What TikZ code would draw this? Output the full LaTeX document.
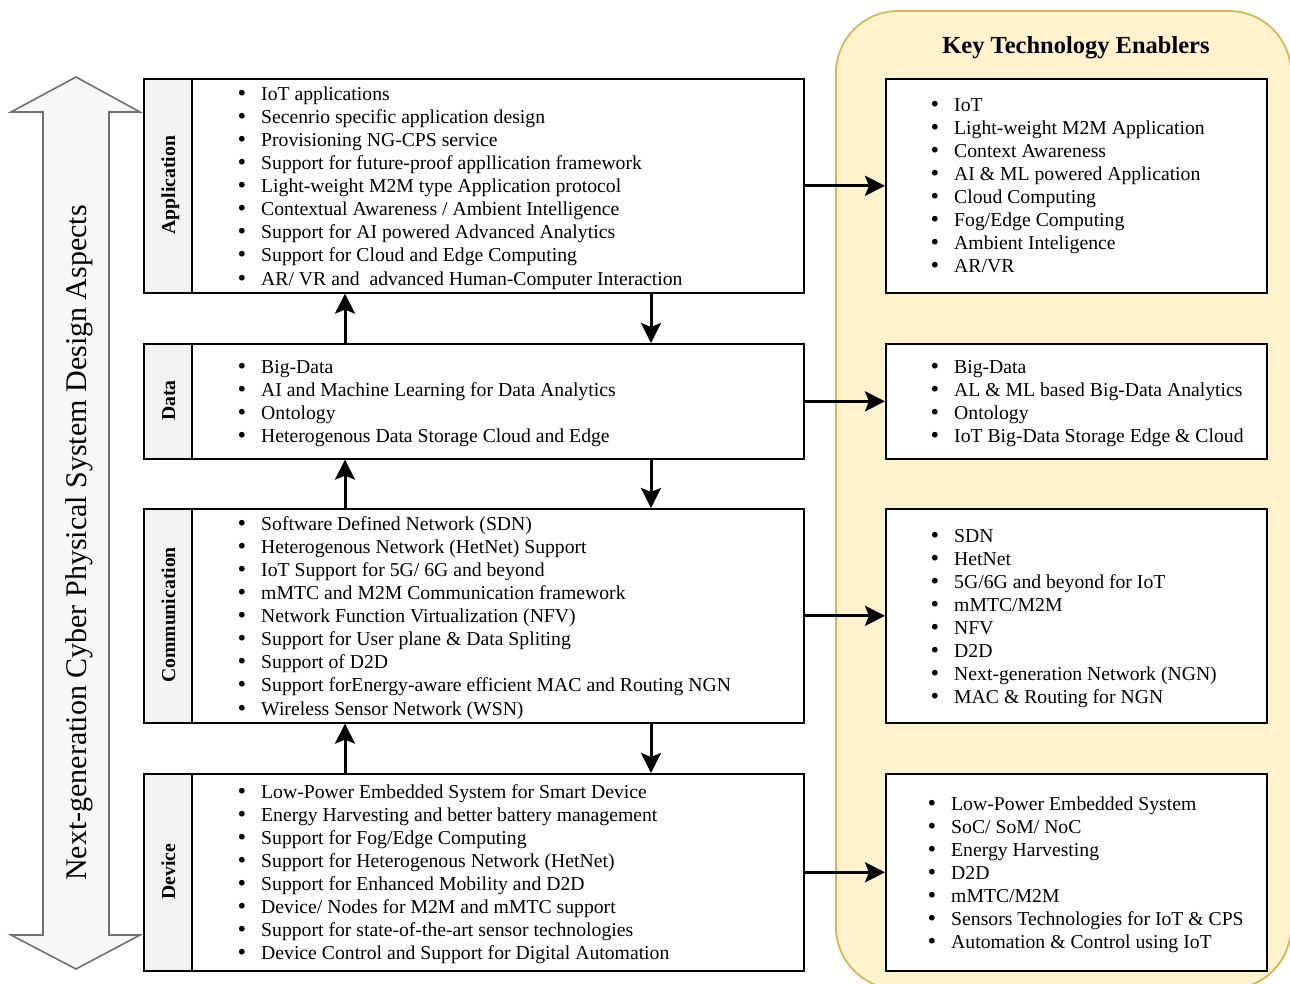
\documentclass[tikz,border=0pt]{standalone}
\usepackage{fontspec}
\setmainfont{Liberation Serif}
\newfontfamily\dotfont{DejaVu Sans}
\usetikzlibrary{arrows.meta,calc}

\definecolor{panelfill}{HTML}{FFF2CC}
\definecolor{paneldraw}{HTML}{D6B656}
\definecolor{labelfill}{HTML}{F2F2F2}
\definecolor{bigarrow}{HTML}{707070}

\newcommand\itemsize{\fontsize{19.7}{23}\selectfont}
\newcommand\itemdot{\makebox[24pt][l]{\hspace{-1pt}{\dotfont\symbol{"2022}}}}

% one bullet line per node, baselines 23.13 apart
\newcommand\bulletlist[4]{%
  \foreach \txt [count=\i] in {#4}{%
    \node[listitem] (#1-\i) at (#2,{#3+(\i-1)*23.13}) {\itemdot\txt};}}

\tikzset{
  listitem/.style={anchor=base west, inner sep=0pt, font=\itemsize},
  contentbox/.style={draw, line width=1.6pt, fill=white, anchor=north west, inner sep=0pt},
  labelbox/.style={draw, line width=1.6pt, fill=labelfill, anchor=north west, inner sep=0pt, minimum width=48pt},
  layername/.style={rotate=90, anchor=base, inner sep=0pt, font=\itemsize\bfseries},
  enablerbox/.style={draw, line width=1.6pt, fill=white, anchor=north west, inner sep=0pt, minimum width=381pt},
  flow/.style={line width=3pt, -{Stealth[length=20pt,width=20pt,inset=4pt]}},
}

\begin{document}
\begin{tikzpicture}[x=1pt, y=-1pt]
\useasboundingbox (0,0) rectangle (1290,983);

% enablers panel
\draw[fill=panelfill, draw=paneldraw, line width=1.8pt, rounded corners=62pt]
  (836,11) rectangle (1291,989);
\node[anchor=base, inner sep=0pt, font=\fontsize{24.5}{28}\selectfont\bfseries] (kte) at (1076,53) {Key Technology Enablers};

% double-headed design-aspects arrow
\draw[fill=white!97!black, draw=bigarrow, line width=1.6pt, line join=miter]
  (76,77) -- (140,112) -- (109,112) -- (109,935) -- (140,935) -- (76,969)
  -- (11,935) -- (43,935) -- (43,112) -- (11,112) -- cycle;
\node[rotate=90, anchor=base, inner sep=0pt, font=\fontsize{30}{34}\selectfont] (aspects) at (86,543)
  {Next-generation Cyber Physical System Design Aspects};

% layer boxes
\node[labelbox, minimum height=214pt] (appL) at (143,78) {};
\node[contentbox, minimum width=612pt, minimum height=214pt] (appC) at (191,78) {};
\node[labelbox, minimum height=115pt] (dataL) at (143,343) {};
\node[contentbox, minimum width=612pt, minimum height=115pt] (dataC) at (191,343) {};
\node[labelbox, minimum height=214pt] (comL) at (143,508) {};
\node[contentbox, minimum width=612pt, minimum height=214pt] (comC) at (191,508) {};
\node[labelbox, minimum height=197pt] (devL) at (143,773) {};
\node[contentbox, minimum width=612pt, minimum height=197pt] (devC) at (191,773) {};

\node[layername] (appT) at (175,185) {Application};
\node[layername] (dataT) at (175,400.5) {Data};
\node[layername] (comT) at (175,615) {Communication};
\node[layername] (devT) at (175,871.5) {Device};

\bulletlist{app}{237}{100}{IoT applications, Secenrio specific application design, Provisioning NG-CPS service,
  Support for future-proof appllication framework, Light-weight M2M type Application protocol,
  Contextual Awareness / Ambient Intelligence, Support for AI powered Advanced Analytics,
  Support for Cloud and Edge Computing, AR/ VR and \ advanced Human-Computer Interaction}
\bulletlist{data}{237}{373}{Big-Data, AI and Machine Learning for Data Analytics, Ontology,
  Heterogenous Data Storage Cloud and Edge}
\bulletlist{com}{237}{530}{Software Defined Network (SDN), Heterogenous Network (HetNet) Support,
  IoT Support for 5G/ 6G and beyond, mMTC and M2M Communication framework,
  Network Function Virtualization (NFV), Support for User plane \& Data Spliting, Support of D2D,
  Support forEnergy-aware efficient MAC and Routing NGN, Wireless Sensor Network (WSN)}
\bulletlist{dev}{237}{798}{Low-Power Embedded System for Smart Device,
  Energy Harvesting and better battery management, Support for Fog/Edge Computing,
  Support for Heterogenous Network (HetNet), Support for Enhanced Mobility and D2D,
  Device/ Nodes for M2M and mMTC support, Support for state-of-the-art sensor technologies,
  Device Control and Support for Digital Automation}

% enabler boxes
\node[enablerbox, minimum height=214pt] (appR) at (885,78) {};
\node[enablerbox, minimum height=115pt] (dataR) at (885,343) {};
\node[enablerbox, minimum height=214pt] (comR) at (885,508) {};
\node[enablerbox, minimum height=197pt] (devR) at (885,773) {};

\bulletlist{kapp}{930}{111}{IoT, Light-weight M2M Application, Context Awareness, AI \& ML powered Application,
  Cloud Computing, Fog/Edge Computing, Ambient Inteligence, AR/VR}
\bulletlist{kdata}{930}{373}{Big-Data, AL \& ML based Big-Data Analytics, Ontology, IoT Big-Data Storage Edge \& Cloud}
\bulletlist{kcom}{930}{542}{SDN, HetNet, 5G/6G and beyond for IoT, mMTC/M2M, NFV, D2D,
  Next-generation Network (NGN), MAC \& Routing for NGN}
\bulletlist{kdev}{927}{810}{Low-Power Embedded System, SoC/ SoM/ NoC, Energy Harvesting, D2D, mMTC/M2M,
  Sensors Technologies for IoT \& CPS, Automation \& Control using IoT}

% flows between layers
\coordinate (upx) at (345,0);
\coordinate (downx) at (651,0);
\draw[flow] (dataC.north -| upx) -- (appC.south -| upx);
\draw[flow] (appC.south -| downx) -- (dataC.north -| downx);
\draw[flow] (comC.north -| upx) -- (dataC.south -| upx);
\draw[flow] (dataC.south -| downx) -- (comC.north -| downx);
\draw[flow] (devC.north -| upx) -- (comC.south -| upx);
\draw[flow] (comC.south -| downx) -- (devC.north -| downx);

% flows to enablers
\draw[flow] (appC.east) -- (appR.west);
\draw[flow] (dataC.east) -- (dataR.west);
\draw[flow] (comC.east) -- (comR.west);
\draw[flow] (devC.east) -- (devR.west);
\end{tikzpicture}
\end{document}
